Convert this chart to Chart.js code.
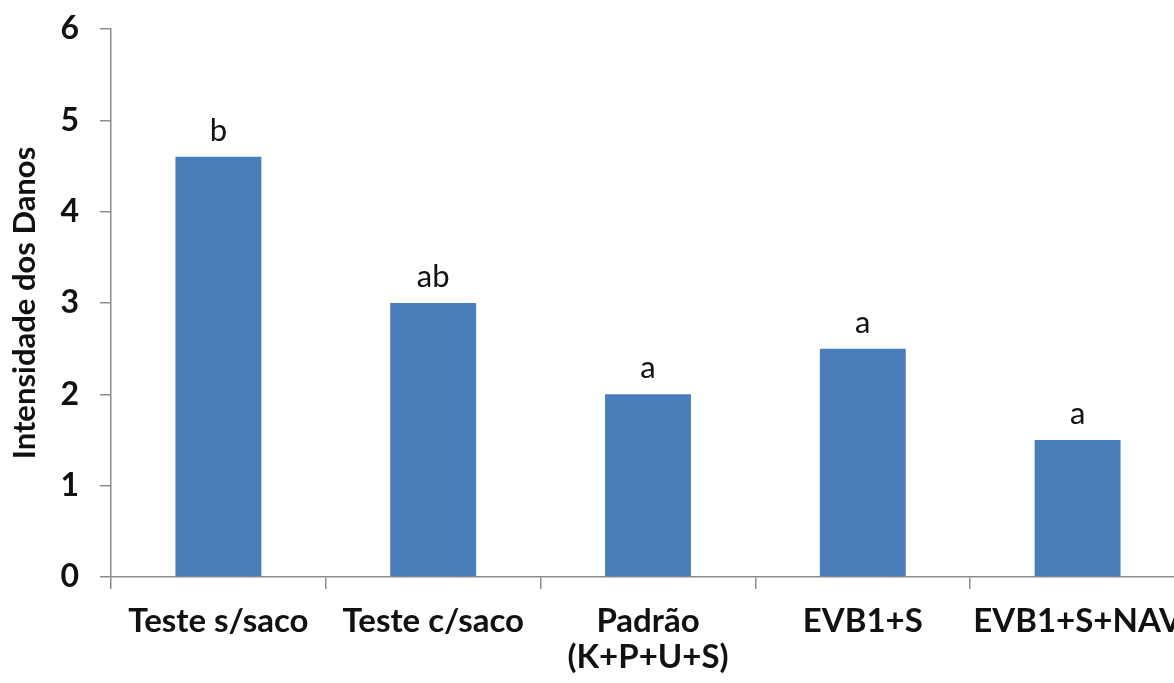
<!DOCTYPE html>
<html>
<head>
<meta charset="utf-8">
<script src="https://cdn.jsdelivr.net/npm/chart.js@4.4.0/dist/chart.umd.min.js"></script>
<style>
    html, body { margin: 0; padding: 0; background: #fff; overflow: hidden; }
    #wrap { width: 1230px; height: 683px; }
</style>
</head>
<body>
<div id="wrap"><canvas id="damageChart"></canvas></div>
<script>
const treatments = ['Teste s/saco', 'Teste c/saco', ['Padrão', '(K+P+U+S)'], 'EVB1+S', 'EVB1+S+NAV'];
const damageValues = [4.6, 3.0, 2.0, 2.5, 1.5];
const groupLetters = ['b', 'ab', 'a', 'a', 'a'];
const yTicks = [0, 1, 2, 3, 4, 5, 6];

const fontFamily = 'Lato, "Open Sans", sans-serif';
const axisGray = '#8c8c8c';

// letters above each bar (statistical groups)
const letterPlugin = {
    id: 'groupLetters',
    afterDatasetsDraw(chart) {
        const ctx = chart.ctx;
        const meta = chart.getDatasetMeta(0);
        ctx.save();
        ctx.font = '31px ' + fontFamily;
        ctx.fillStyle = '#111';
        ctx.textAlign = 'center';
        ctx.textBaseline = 'alphabetic';
        meta.data.forEach((bar, i) => {
            ctx.fillText(groupLetters[i], bar.x, bar.y - 16);
        });
        ctx.restore();
    }
};

const ctx = document.getElementById('damageChart').getContext('2d');
const damageChart = new Chart(ctx, {
    type: 'bar',
    data: {
        labels: treatments,
        datasets: [{
            data: damageValues,
            backgroundColor: '#4a7ebb',
            borderWidth: 0,
            barPercentage: 0.4,
            categoryPercentage: 1.0
        }]
    },
    options: {
        responsive: true,
        maintainAspectRatio: false,
        animation: false,
        layout: { padding: { top: 29, right: 45, left: 0, bottom: 0 } },
        plugins: {
            legend: { display: false },
            tooltip: { enabled: false }
        },
        scales: {
            x: {
                offset: true,
                grid: {
                    offset: true,
                    drawOnChartArea: false,
                    drawTicks: true,
                    tickLength: 12,
                    color: axisGray,
                    lineWidth: 1.5
                },
                border: { color: axisGray, width: 1.5 },
                ticks: {
                    color: '#111',
                    padding: 14,
                    maxRotation: 0,
                    autoSkip: false,
                    font: { family: fontFamily, size: 33, weight: 'bold', lineHeight: 1.1 }
                },
                afterFit(scale) { scale.height = 106; }
            },
            y: {
                min: 0,
                max: 6,
                afterBuildTicks(scale) {
                    scale.ticks = yTicks.map(v => ({ value: v }));
                },
                grid: {
                    drawOnChartArea: false,
                    tickLength: 11,
                    color: axisGray,
                    lineWidth: 1.5
                },
                border: { color: axisGray, width: 1.5 },
                ticks: {
                    color: '#111',
                    padding: 21,
                    font: { family: fontFamily, size: 32, weight: 'bold' }
                },
                title: {
                    display: true,
                    text: 'Intensidade dos Danos',
                    color: '#111',
                    padding: { top: 6, bottom: 0 },
                    font: { family: fontFamily, size: 31, weight: 'bold' }
                },
                afterFit(scale) {
                    scale.width = 111;
                    scale.paddingTop = 0;
                }
            }
        }
    },
    plugins: [letterPlugin]
});
</script>
</body>
</html>
